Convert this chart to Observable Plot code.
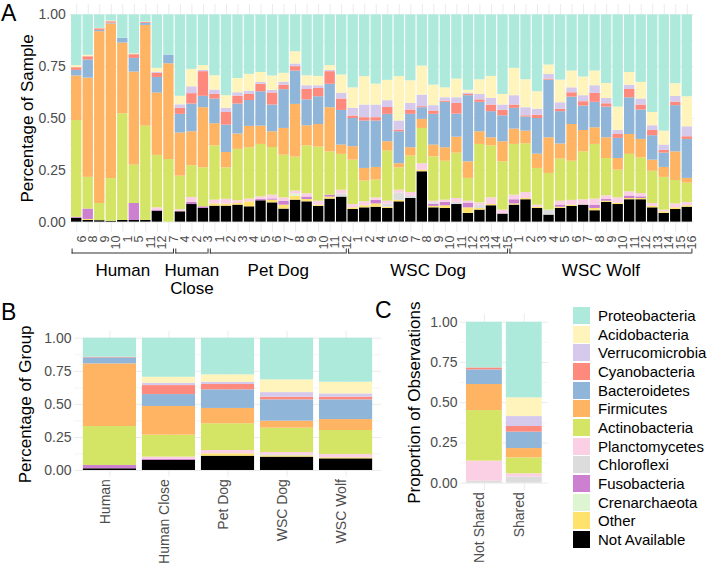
<!DOCTYPE html>
<html><head><meta charset="utf-8">
<script src="https://cdn.jsdelivr.net/npm/d3@7"></script>
<script src="https://cdn.jsdelivr.net/npm/@observablehq/plot@0.6"></script>
<style>
body{margin:0;background:#fff;font-family:"Liberation Sans",Arial,Helvetica,sans-serif}
#root{position:relative;width:709px;height:568px;overflow:hidden;background:#fff}
.pane{position:absolute}
.letter{position:absolute;font-size:23px;color:#000;line-height:26px}
.leg{position:absolute;left:573px;top:307px}
.legrow{position:relative;height:18.67px}
.sw{position:absolute;left:0;top:0;width:17px;height:17px}
.lt{position:absolute;left:25px;top:-1px;font-size:15px;line-height:19px;color:#000;white-space:nowrap}
</style></head>
<body><div id="root"></div>
<script>
// ---------- categories ----------
const legendOrder = ["Proteobacteria","Acidobacteria","Verrucomicrobia","Cyanobacteria","Bacteroidetes","Firmicutes","Actinobacteria","Planctomycetes","Chloroflexi","Fusobacteria","Crenarchaeota","Other","Not Available"];
const phylumColors = ["#aeeadb","#fff4bb","#d6caec","#fe8a7e","#8fb6d8","#ffb464","#d4e566","#fbd0e5","#dcdcdc","#cd80d0","#def5d2","#fee26c","#000000"];
const stackOrder = legendOrder.slice().reverse(); // bottom to top

const groupNames = ["Human","Human Close","Pet Dog","WSC Dog","WSC Wolf"];
const groupLabelsA = ["Human","Human\nClose","Pet Dog","WSC Dog","WSC Wolf"];
const sampleGroups = [
 "Human","Human","Human","Human","Human","Human","Human","Human","Human",
 "Human Close","Human Close","Human Close",
 "Pet Dog","Pet Dog","Pet Dog","Pet Dog","Pet Dog","Pet Dog","Pet Dog","Pet Dog","Pet Dog","Pet Dog","Pet Dog","Pet Dog",
 "WSC Dog","WSC Dog","WSC Dog","WSC Dog","WSC Dog","WSC Dog","WSC Dog","WSC Dog","WSC Dog","WSC Dog","WSC Dog","WSC Dog","WSC Dog","WSC Dog",
 "WSC Wolf","WSC Wolf","WSC Wolf","WSC Wolf","WSC Wolf","WSC Wolf","WSC Wolf","WSC Wolf","WSC Wolf","WSC Wolf","WSC Wolf","WSC Wolf","WSC Wolf","WSC Wolf","WSC Wolf","WSC Wolf"];
const sampleLabels = ["6","8","9","10","1","5","11","12","7",
 "4","2","3",
 "1","2","3","4","5","6","7","8","9","10","11","12",
 "1","2","4","5","6","7","8","9","10","11","12","13","14","15",
 "1","2","3","4","5","6","7","8","9","10","11","12","13","14","15","16"];

// ---------- panel A values (fraction of sample) ----------
const naA      = [.018,.008,.007,.004,.008,.008,.008,.052,0,.05, .085,.066,.077,.077,.082,.074,.103,.093,.063,.106, .098,.076,.111,.121,.061,.069,.072,.066,.098,.114, .243,.069,.066,.085,.042,.058,.079,.039,.082,.108, .066,.034,.066,.076,.082,.055,.095,.085,.108,.108, .069,.042,.061,.072];
const otherA   = [0,.005,0,0,0,0,0,0,0,0, 0,0,.011,.01,.008,.024,0,.013,.019,.018, .011,.006,.01,0,.008,.01,.016,.006,.007,0, .008,.007,.013,0,.027,.008,.006,0,.006,.006, .006,0,.006,.006,0,.011,.006,.007,.006,.006, .007,.008,.008,.007];
const crenA    = [0,0,0,0,0,0,0,0,0,0, 0,0,0,0,0,0,0,0,0,.012, 0,0,0,0,0,0,0,0,0,0, 0,0,0,0,0,0,0,0,0,0, 0,0,0,0,0,0,0,0,0,0, 0,0,0,0];
const fusoA    = [.005,.05,0,0,0,.082,0,.006,0,0, .01,.008,0,0,0,0,.006,.006,.019,0, .012,0,.009,0,0,0,.017,0,0,0, 0,.009,.016,0,.023,0,0,0,.02,0, 0,0,.01,0,0,.016,.008,0,.012,.008, 0,0,0,0];
const chloroA  = [0,0,0,0,0,0,0,0,0,0, 0,0,0,0,0,0,0,0,0,0, 0,0,0,.015,0,0,0,.015,.035,.01, 0,.008,0,.01,0,.015,0,0,0,0, 0,.024,0,0,0,0,0,0,0,0, 0,0,0,0];
const planctoA = [0,0,0,0,0,0,0,.011,0,.01, .024,0,.018,.023,.013,.013,.013,.018,.016,.014, .016,.019,0,.018,.016,.019,.012,.014,.014,.019, .031,.008,.011,.019,.009,.012,.032,.019,.022,.029, .01,0,.019,.023,.026,.029,.018,.025,.02,.016, .014,.008,.019,.016];
const actinoA  = [.467,.153,.083,.206,.515,.185,.455,.253,.302,.162, .153,.188,.262,.152,.248,.248,.253,.23,.206,.164, .231,.261,.209,.173,.214,.1,.086,.242,.108,.176, .17,.214,.188,.219,.11,.282,.251,.233,.245,.235, .177,.177,.203,.189,.231,.264,.18,.134,.181,.172, .156,.158,.113,.093];
const firmA    = [.215,.479,.829,.746,.341,.449,.486,.301,.462,.208, .164,.29,.107,.074,.074,.103,.088,.076,.129,.254, .097,.109,.213,.045,.065,.061,.061,.045,.02,.04, .044,.057,.065,.077,.08,.061,.039,.097,.074,.061, .069,.172,.073,.177,.103,.08,.1,.056,.096,.089, .053,.048,.138,.023];
const bactA    = [.027,.087,.006,.004,.023,.066,.01,.075,.042,.09, .134,.055,.119,.132,.145,.125,.166,.129,.187,.161, .125,.134,.113,.167,.136,.229,.224,.132,.154,.161, .056,.148,.219,.111,.319,.142,.126,.125,.1,.068, .172,.278,.156,.132,.118,.123,.148,.097,.177,.142, .118,.069,.223,.188];
const cyanoA   = [.013,.016,.008,.007,0,.018,.004,.02,0,.029, .05,.119,.022,.061,.038,.029,.036,.058,.022,.021, .05,.04,.061,.055,.012,.016,.016,.033,.008,.021, .005,.016,.006,.052,.006,.012,.032,.026,.016,.006, .016,.005,.011,.021,.021,.043,.016,.019,.04,.024, .025,.013,.016,.013];
const verrucoA = [0,0,0,0,0,0,0,.005,0,.017, .033,.006,.021,.02,.016,.016,.009,.013,.013,.013, .018,.013,.006,.027,.037,.061,.061,.033,.044,.032, .056,.026,.016,.027,.005,.026,.032,.026,.045,.039, .029,.023,.032,.024,.029,.037,.026,.019,.021,.029, .023,.026,.029,.048];
const acidoA   = [.01,.007,.002,.003,0,.004,.002,.019,0,.041, .084,.023,.069,.061,.069,.081,.048,.069,.044,.059, .048,.045,.023,.089,.099,.137,.101,.098,.214,.109, .14,.099,.048,.09,.015,.071,.106,.051,.132,.135, .084,.045,.109,.081,.09,.071,.072,.113,.061,.08, .064,.067,.061,.145];
const proteoA  = [.245,.195,.065,.03,.113,.188,.035,.258,.194,.393, .263,.245,.294,.39,.307,.287,.278,.295,.282,.178, .294,.297,.245,.29,.352,.298,.334,.316,.298,.318, .247,.339,.352,.31,.364,.313,.297,.384,.258,.313, .371,.242,.315,.271,.3,.271,.331,.445,.278,.326, .471,.561,.332,.395];

// ---------- panel B values (fraction of group) ----------
const naB      = [.013,.076,.108,.101,.088];
const otherB   = [0,0,.018,.01,.008];
const crenB    = [0,0,0,0,0];
const fusoB    = [.025,.007,0,0,0];
const chloroB  = [0,0,0,.008,0];
const planctoB = [0,.018,.025,.017,.025];
const actinoB  = [.294,.166,.202,.184,.181];
const firmB    = [.474,.217,.116,.053,.083];
const bactB    = [.045,.09,.141,.161,.149];
const cyanoB   = [.005,.068,.04,.02,.02];
const verrucoB = [0,.018,.017,.035,.025];
const acidoB   = [0,.045,.056,.096,.088];
const proteoB  = [.144,.295,.277,.315,.333];

// ---------- panel C values (proportion of observations) ----------
const sharedCats = ["Not Shared","Shared"];
const naC      = [0,0];
const otherC   = [0,0];
const crenC    = [0,0];
const fusoC    = [0,0];
const chloroC  = [.012,.037];
const planctoC = [.125,.021];
const actinoC  = [.314,.099];
const firmC    = [.162,.058];
const bactC    = [.091,.102];
const cyanoC   = [.012,.035];
const verrucoC = [0,.062];
const acidoC   = [0,.116];
const proteoC  = [.284,.47];

const yTicks = [0,0.25,0.5,0.75,1];
const yMinor = [0.125,0.375,0.625,0.875];

// ---------- helpers ----------
function seriesMap(na,oth,cren,fuso,chl,pla,act,fir,bac,cya,ver,aci,pro){
  return {"Not Available":na,"Other":oth,"Crenarchaeota":cren,"Fusobacteria":fuso,"Chloroflexi":chl,"Planctomycetes":pla,
    "Actinobacteria":act,"Firmicutes":fir,"Bacteroidetes":bac,"Cyanobacteria":cya,"Verrucomicrobia":ver,"Acidobacteria":aci,"Proteobacteria":pro};
}
function stackRows(n, s){
  const rows=[];
  for(let i=0;i<n;i++){
    let c=0;
    for(const p of stackOrder){
      const v=s[p][i]||0;
      if(v>0) rows.push({i:i+1, phylum:p, y1:c, y2:c+v});
      c+=v;
    }
  }
  return rows;
}
const FONT='"Liberation Sans",Arial,Helvetica,sans-serif';
const GRID="#ebebeb";
function barPanel(o){
  const n=o.n;
  const marks=[
    Plot.ruleY(yMinor,{y:d=>d,stroke:GRID,strokeWidth:0.5}),
    Plot.ruleY(yTicks,{y:d=>d,stroke:GRID,strokeWidth:1}),
    Plot.ruleX(d3.range(1,n+1),{x:d=>d,stroke:GRID,strokeWidth:1}),
    Plot.rect(o.rows,{x1:d=>d.i-0.45,x2:d=>d.i+0.45,y1:"y1",y2:"y2",fill:"phylum"}),
    Plot.text(yTicks,{y:d=>d,text:d=>d.toFixed(2),frameAnchor:"left",textAnchor:"end",dx:o.tickDx,fill:"#4d4d4d",fontSize:14}),
    Plot.text([o.title],{text:d=>d,frameAnchor:"left",textAnchor:"middle",rotate:-90,dx:o.titleDx,fill:"#000",fontSize:17})
  ];
  if(o.xLabels){
    marks.push(Plot.text(d3.range(1,n+1),{x:d=>d,text:d=>o.xLabels[d-1],frameAnchor:"bottom",rotate:-90,textAnchor:"end",dy:o.xDy,fill:"#4d4d4d",fontSize:o.xFont}));
  }
  return Plot.plot({
    width:o.width,height:o.height,
    marginLeft:o.mL,marginRight:o.mR,marginTop:o.mT,marginBottom:o.mB,
    x:{domain:[0.4,n+0.6],axis:null},
    y:{domain:[-0.05,1.05],axis:null},
    color:{domain:legendOrder,range:phylumColors},
    style:{fontFamily:FONT,background:"transparent",overflow:"visible"},
    marks
  });
}
function place(el,left,top){
  const d=document.createElement("div");d.className="pane";d.style.left=left+"px";d.style.top=top+"px";
  d.appendChild(el);document.getElementById("root").appendChild(d);return d;
}
function letter(t,left,top){
  const d=document.createElement("div");d.className="letter";d.textContent=t;d.style.left=left+"px";d.style.top=top+"px";
  document.getElementById("root").appendChild(d);
}

// ---------- Panel A ----------
const nA=sampleLabels.length;
const rowsA=stackRows(nA,seriesMap(naA,otherA,crenA,fusoA,chloroA,planctoA,actinoA,firmA,bactA,cyanoA,verrucoA,acidoA,proteoA));
const AmL=69.3, AmR=15.3;
const plotA=barPanel({n:nA,rows:rowsA,width:709,height:232,mL:AmL,mR:AmR,mT:4,mB:0,
  title:"Percentage of Sample",titleDx:-42,tickDx:-4});
place(plotA,0,0);

// strip under A: sample labels, group brackets, group names
const spans=groupNames.map((g,k)=>{
  const idx=d3.range(nA).filter(i=>sampleGroups[i]===g).map(i=>i+1);
  return {name:groupLabelsA[k],first:d3.min(idx),last:d3.max(idx)};
});
const ends=spans.flatMap(s=>[s.first-0.4,s.last+0.4]);
const SH=70;
const stripA=Plot.plot({
  width:709,height:SH,marginLeft:AmL,marginRight:AmR,marginTop:0,marginBottom:0,
  x:{domain:[0.4,nA+0.6],axis:null},
  style:{fontFamily:FONT,background:"transparent",overflow:"visible"},
  marks:[
    Plot.text(d3.range(1,nA+1),{x:d=>d,text:d=>sampleLabels[d-1],frameAnchor:"top",rotate:-90,textAnchor:"end",dy:3,fill:"#4d4d4d",fontSize:12.5}),
    Plot.rect(spans,{x1:d=>d.first-0.4,x2:d=>d.last+0.4,insetTop:20.5,insetBottom:SH-21.5,fill:"#333"}),
    Plot.ruleX(ends,{x:d=>d,insetTop:16.5,insetBottom:SH-21.5,stroke:"#333",strokeWidth:1}),
    Plot.text(spans,{x:d=>(d.first+d.last)/2,text:"name",frameAnchor:"top",textAnchor:"middle",lineAnchor:"top",dy:30,fontSize:17,fill:"#000",lineHeight:1.08})
  ]
});
place(stripA,0,232);
letter("A",1,0);

// ---------- Panel B ----------
const rowsB=stackRows(5,seriesMap(naB,otherB,crenB,fusoB,chloroB,planctoB,actinoB,firmB,bactB,cyanoB,verrucoB,acidoB,proteoB));
const plotB=barPanel({n:5,rows:rowsB,width:390,height:268,mL:74,mR:9,mT:31.1,mB:91.4,
  title:"Percentage of Group",titleDx:-49,tickDx:-3,xLabels:groupNames,xDy:2,xFont:14});
place(plotB,0,300);
letter("B",1,299);

// ---------- Panel C ----------
const rowsC=stackRows(2,seriesMap(naC,otherC,crenC,fusoC,chloroC,planctoC,actinoC,firmC,bactC,cyanoC,verrucoC,acidoC,proteoC));
const plotC=barPanel({n:2,rows:rowsC,width:170,height:278,mL:70,mR:12.3,mT:23.7,mB:77.3,
  title:"Proportion of Observations",titleDx:-46,tickDx:-3,xLabels:sharedCats,xDy:1,xFont:14});
place(plotC,390,290);
letter("C",375,297);

// ---------- Legend ----------
const leg=document.createElement("div");leg.className="leg";
legendOrder.forEach((p,k)=>{
  const r=document.createElement("div");r.className="legrow";
  const s=document.createElement("div");s.className="sw";s.style.background=phylumColors[k];
  const t=document.createElement("div");t.className="lt";t.textContent=p;
  r.appendChild(s);r.appendChild(t);leg.appendChild(r);
});
document.getElementById("root").appendChild(leg);
</script>
</body></html>
